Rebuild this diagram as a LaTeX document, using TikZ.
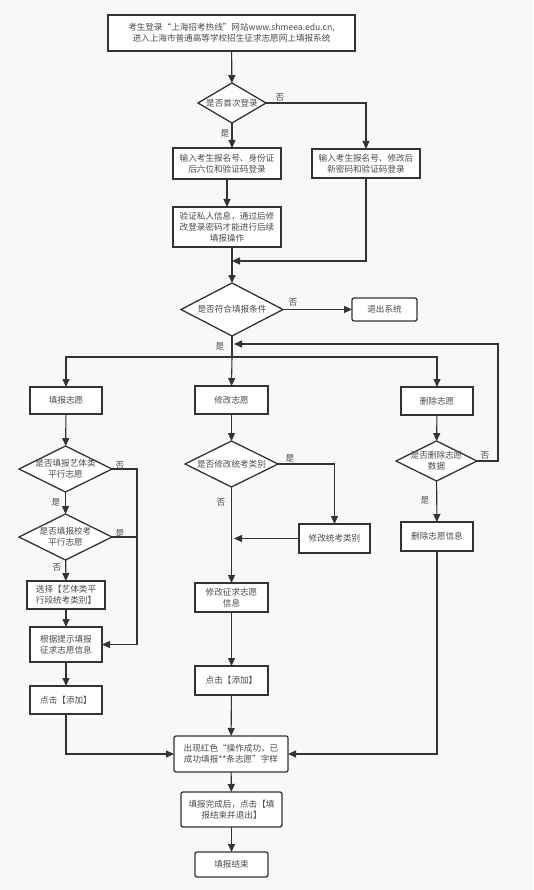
\documentclass[tikz,border=0pt]{standalone}
\usepackage{fontspec}
\setmainfont{Noto Sans CJK SC}
\usetikzlibrary{shapes.geometric,arrows.meta}
\definecolor{ln}{HTML}{333333}
\definecolor{tx}{HTML}{4A4A4A}
\definecolor{bg}{HTML}{F8F8F8}
\tikzset{
  x=1pt,y=-1pt,
  every node/.style={font=\fontsize{8.6}{11}\selectfont, text=tx},
  box/.style={draw=ln, line width=1.3pt, fill=white, inner sep=0pt, outer sep=0pt, align=center},
  rbox/.style={box, rounded corners=2pt},
  dia/.style={draw=ln, line width=1.3pt, fill=white, diamond, inner sep=0pt, outer sep=0pt},
  lbl/.style={inner sep=0pt, align=center},
  yn/.style={inner sep=0pt},
  arr/.style={draw=ln, line width=1.1pt, -{Triangle[length=8pt,width=7pt]}},
  con/.style={draw=ln, line width=1.1pt},
}
\begin{document}
\begin{tikzpicture}
\fill[bg] (0,0) rectangle (533,890);
\useasboundingbox (0,0) rectangle (533,890);

% top
\node[box, minimum width=247pt, minimum height=36pt] (top) at (231.5,33) {考生登录“上海招考热线”网站www.shmeea.edu.cn,\\进入上海市普通高等学校招生征求志愿网上填报系统};
\node[dia, minimum width=68pt, minimum height=40pt] (d1) at (232,103) {};
\node[lbl] at (d1) {是否首次登录};
\node[box, minimum width=108pt, minimum height=31pt] (b1) at (227,163.5) {输入考生报名号、身份证\\后六位和验证码登录};
\node[box, minimum width=108pt, minimum height=29pt] (b2) at (366,163.5) {输入考生报名号、修改后\\新密码和验证码登录};
\node[box, minimum width=108pt, minimum height=40pt] (b3) at (227,227) {验证私人信息，通过后修\\改登录密码才能进行后续\\填报操作};
\coordinate (m1) at (232,261);

\node[dia, minimum width=102pt, minimum height=53pt] (d2) at (232,309.5) {};
\node[lbl] at (d2) {是否符合填报条件};
\node[rbox, minimum width=65pt, minimum height=23pt] (quit) at (384.5,309.5) {退出系统};
\coordinate (m2) at (234,344);
\coordinate (split) at (232,357);
\coordinate (cr) at (498,344);

% three branches
\node[box, minimum width=72pt, minimum height=27pt] (fill) at (66,400.5) {填报志愿};
\node[box, minimum width=73pt, minimum height=28pt] (mod) at (231.5,400) {修改志愿};
\node[box, minimum width=72pt, minimum height=28pt] (del) at (437,401) {删除志愿};

% left column
\node[dia, minimum width=93pt, minimum height=46pt] (d3) at (65.5,469) {};
\node[lbl] at (d3) {是否填报艺体类\\平行志愿};
\node[dia, minimum width=93pt, minimum height=46pt] (d4) at (65.5,537) {};
\node[lbl] at (d4) {是否填报校考\\平行志愿};
\node[box, minimum width=78pt, minimum height=28pt] (sel) at (66,595) {选择【艺体类平\\行段统考类别】};
\node[box, minimum width=72pt, minimum height=35pt] (info) at (66,644.5) {根据提示填报\\征求志愿信息};
\node[box, minimum width=72pt, minimum height=28pt] (add1) at (66,700) {点击【添加】};
\coordinate (c3) at (137,469);
\coordinate (c4) at (137,537);

% middle column
\node[dia, minimum width=93pt, minimum height=46pt] (d5) at (231.5,464) {};
\node[lbl] at (d5) {是否修改统考类别};
\node[box, minimum width=71pt, minimum height=29pt] (cat) at (334.5,538.5) {修改统考类别};
\coordinate (m3) at (234,538.5);
\node[box, minimum width=73pt, minimum height=29pt] (modinfo) at (231.5,597.5) {修改征求志愿\\信息};
\node[box, minimum width=73pt, minimum height=29pt] (add2) at (231.5,680.5) {点击【添加】};

% right column
\node[dia, minimum width=81pt, minimum height=40pt] (d6) at (436.5,461) {};
\node[lbl] at (d6) {是否删除志愿\\数据};
\node[box, minimum width=72pt, minimum height=29pt] (deli) at (437,536.5) {删除志愿信息};

% bottom
\node[rbox, minimum width=114pt, minimum height=36pt] (res) at (231,754) {出现红色“操作成功，已\\成功填报**条志愿”字样};
\node[rbox, minimum width=101pt, minimum height=35pt] (fin) at (231.5,809.5) {填报完成后，点击【填\\报结束并退出】};
\node[rbox, minimum width=73pt, minimum height=25pt] (end) at (231.5,864.5) {填报结束};

% connectors
\draw[arr] (top) -- (d1);
\draw[arr] (d1.south) -- (d1.south |- b1.north);
\draw[arr] (d1.east) -| (b2.north);
\draw[arr] (b1) -- (b3);
\draw[arr] (b3.south -| d2.north) -- (d2.north);
\draw[arr] (b2.south) |- (m1);
\draw[arr] (d2.east) -- (quit.west);
\draw[con] (d2.south) -- (split);
\draw[arr] (split) -| (fill.north);
\draw[arr] (split) -- (mod.north);
\draw[arr] (split) -| (del.north);
\draw[arr] (d6.east) -| (cr) -- (m2);

\draw[arr] (fill) -- (d3);
\draw[arr] (d3) -- (d4);
\draw[arr] (d4) -- (sel);
\draw[arr] (sel) -- (info);
\draw[arr] (info) -- (add1);
\draw[arr] (d3.east) -- (c3) |- (info.east);
\draw[con] (d4.east) -- (c4);
\draw[arr] (add1.south) |- (res.west);

\draw[arr] (mod) -- (d5);
\draw[arr] (d5.east) -| (cat.north);
\draw[arr] (cat.west) -- (m3);
\draw[arr] (d5.south) -- (modinfo.north);
\draw[arr] (modinfo) -- (add2);
\draw[arr] (add2) -- (res);

\draw[arr] (del) -- (d6);
\draw[arr] (d6) -- (deli);
\draw[arr] (deli.south) |- (res.east);

\draw[arr] (res) -- (fin);
\draw[arr] (fin) -- (end);

% yes/no labels
\node[yn] at (280,97) {否};
\node[yn] at (225,133) {是};
\node[yn] at (293,302) {否};
\node[yn] at (220,346) {是};
\node[yn] at (120,465) {否};
\node[yn] at (56,502) {是};
\node[yn] at (120,533) {是};
\node[yn] at (57,567) {否};
\node[yn] at (290,458) {是};
\node[yn] at (221,502) {否};
\node[yn] at (485,455) {否};
\node[yn] at (425,500) {是};
\end{tikzpicture}
\end{document}
